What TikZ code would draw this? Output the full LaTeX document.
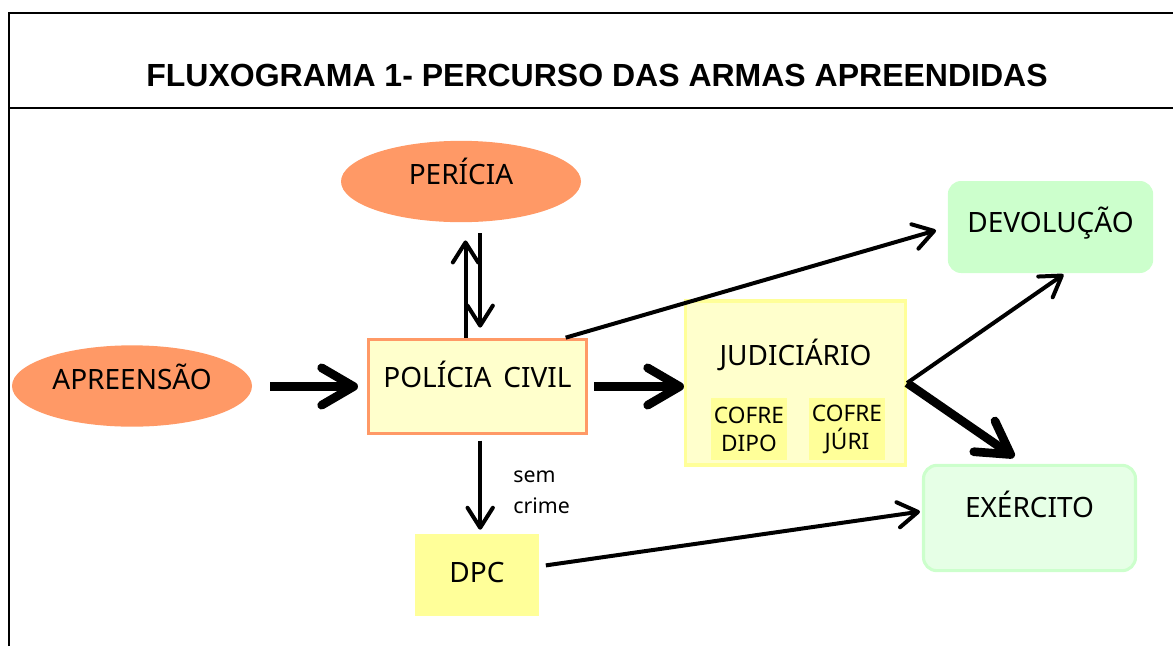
\documentclass[tikz,border=0pt]{standalone}
\usepackage{fontspec}
\setmainfont{Noto Sans}
\newfontfamily\titlefont{Liberation Sans}
\usetikzlibrary{arrows.meta, shapes.geometric, positioning}

\definecolor{peach}{HTML}{FF9966}
\definecolor{paleyellow}{HTML}{FFFFCC}
\definecolor{lemon}{HTML}{FFFF99}
\definecolor{mint}{HTML}{CCFFCC}
\definecolor{palemint}{HTML}{E6FFE6}

\begin{document}
\begin{tikzpicture}[x=0.75pt, y=-0.75pt,
        every node/.style={font=\fontsize{21}{25}\selectfont},
        box/.style={text height=15pt, text depth=0pt},
        lift/.style={text depth=#1},
        oval/.style={box, ellipse, fill=peach, minimum width=180pt, minimum height=61pt},
        thin arrow/.style={line width=3pt, -{Straight Barb[length=15pt, width=19pt, round]}},
        thick arrow/.style={line width=6.5pt, -{Straight Barb[length=24pt, width=28pt, round]}}]

    % frame and title band
    \useasboundingbox (0,0) rectangle (1173,646);
    \draw[line width=1.5pt] (9,646) -- (9,13) -- (1173,13);
    \draw[line width=1.5pt] (9,108) -- (1173,108);
    \node[font=\titlefont\bfseries\fontsize{24}{28}\selectfont] (title) at (597,75)
        {FLUXOGRAMA 1- PERCURSO DAS ARMAS APREENDIDAS};

    \node[oval, lift=9.8pt] (peri) at (461,181.5) {PERÍCIA};
    \node[oval, lift=10.5pt] (apre) at (132,386) {APREENSÃO};
    \node[box, lift=14.2pt, rectangle, draw=peach, line width=2.3pt, fill=paleyellow,
          minimum width=164pt, minimum height=71pt] (pol) at (477.5,386.5) {POLÍCIA\, CIVIL};
    \node[box, lift=42pt, rectangle, draw=lemon, line width=2.3pt, fill=paleyellow,
          minimum width=165pt, minimum height=123pt] (judic) at (795.5,383) {JUDICIÁRIO};
    \node[fill=lemon, minimum width=57pt, minimum height=46.5pt, inner sep=1pt,
          align=center, font=\fontsize{17}{21}\selectfont] (dipo) at (749,429) {COFRE\\DIPO};
    \node[fill=lemon, minimum width=57pt, minimum height=46.5pt, inner sep=1pt,
          align=center, font=\fontsize{17}{21}\selectfont] (juri) at (847,429) {COFRE\\JÚRI};
    \node[box, lift=6.8pt, rectangle, rounded corners=10pt, fill=mint,
          minimum width=154pt, minimum height=69pt] (devol) at (1050.5,227) {DEVOLUÇÃO};
    \node[box, lift=16.5pt, rectangle, rounded corners=10pt, draw=mint, line width=2.3pt,
          fill=palemint, minimum width=159pt, minimum height=79pt] (exer) at (1029.5,518) {EXÉRCITO};
    \node[box, lift=3.8pt, rectangle, fill=lemon,
          minimum width=93pt, minimum height=61.5pt] (dpc) at (477,575) {DPC};

    % connectors
    \draw[thick arrow, shorten <=13.5pt, shorten >=6.5pt] (apre.east |- pol.west) -- (pol.west);
    \draw[thick arrow, shorten <=4.5pt] (pol.east) -- (pol.east -| judic.west);
    \draw[thin arrow, shorten >=13.5pt] ([xshift=-9pt]pol.north) -- ([xshift=-9pt]pol.north |- peri.south);
    \draw[thin arrow, shorten <=8pt, shorten >=7.5pt] ([xshift=2pt]pol.north |- peri.south) -- ([xshift=2pt]pol.north);
    \draw[thin arrow, shorten >=9pt] ([xshift=-17pt]pol.north east) -- (devol.west);
    \draw[thin arrow, shorten <=4pt, shorten >=3pt] ([xshift=2pt]pol.south) -- ([xshift=2pt]pol.south |- dpc.north)
        node[midway, right=20pt, yshift=-6pt, align=left, font=\fontsize{16}{23}\selectfont] (sem) {sem\\crime};
    \draw[thin arrow, shorten <=5pt, shorten >=1.5pt] ([yshift=6.5pt]dpc.east) -- ([yshift=5pt]exer.west);
    \draw[thin arrow, shorten >=1.5pt] (judic.east) -- ([xshift=11pt]devol.south);
    \draw[thick arrow, shorten >=9pt] (judic.east) -- ([xshift=-4pt]exer.north);
\end{tikzpicture}
\end{document}
